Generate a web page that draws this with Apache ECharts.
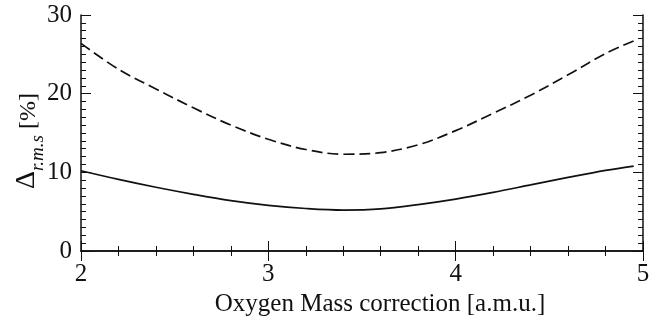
<!DOCTYPE html>
<html>
<head>
<meta charset="utf-8">
<script src="https://cdn.jsdelivr.net/npm/echarts@6/dist/echarts.min.js"></script>
<style>
html,body{margin:0;padding:0;background:#fff;}
#c{width:662px;height:316px;}
</style>
</head>
<body>
<div id="c"></div>
<script>
const massCorrection = [2.0, 2.2, 2.4, 2.6, 2.8, 3.0, 3.2, 3.4, 3.6, 3.8, 4.0, 4.2, 4.4, 4.6, 4.8, 4.95];
const dashedValues = [26.4, 23.1, 20.6, 18.2, 16.0, 14.2, 12.9, 12.3, 12.5, 13.5, 15.3, 17.5, 19.8, 22.4, 25.1, 26.7];
const solidValues = [10.2, 9.1, 8.1, 7.2, 6.4, 5.8, 5.4, 5.2, 5.35, 5.9, 6.6, 7.45, 8.4, 9.35, 10.25, 10.8];
const xTicks = [2, 3, 4, 5];
const yTicks = [0, 10, 20, 30];
const xTitle = 'Oxygen Mass correction [a.m.u.]';

const font = 'Liberation Serif';
const black = '#111';

function pairs(xs, ys) { return xs.map((x, i) => [x, ys[i]]); }

const baseAxis = {
  axisLine: { show: true, lineStyle: { color: black, width: 1.5 } },
  axisTick: { show: true, inside: true, length: 10, lineStyle: { color: black, width: 1 } },
  minorTick: { show: true, length: 5, lineStyle: { color: black, width: 1 } },
  splitLine: { show: false },
  minorSplitLine: { show: false }
};

const chart = echarts.init(document.getElementById('c'), null, { renderer: 'canvas' });
chart.setOption({
  backgroundColor: '#fff',
  animation: false,
  grid: { left: 81, top: 15, width: 562, height: 236, containLabel: false, outerBoundsMode: 'none' },
  xAxis: [
    Object.assign({}, baseAxis, {
      type: 'value', min: xTicks[0], max: xTicks[xTicks.length - 1], interval: 1, position: 'bottom',
      minorTick: Object.assign({}, baseAxis.minorTick, { splitNumber: 5 }),
      axisLabel: { color: black, fontFamily: font, fontSize: 25, margin: 11 },
      name: xTitle, nameLocation: 'middle', nameGap: 39,
      nameTextStyle: { color: black, fontFamily: font, fontSize: 25, padding: [0, 0, 0, 36] }
    }),
    Object.assign({}, baseAxis, {
      type: 'value', min: xTicks[0], max: xTicks[xTicks.length - 1], interval: 1, position: 'top',
      minorTick: Object.assign({}, baseAxis.minorTick, { splitNumber: 5 }),
      axisLabel: { show: false }
    })
  ],
  yAxis: [
    Object.assign({}, baseAxis, {
      type: 'value', min: yTicks[0], max: yTicks[yTicks.length - 1], interval: 10, position: 'left',
      minorTick: Object.assign({}, baseAxis.minorTick, { splitNumber: 10 }),
      axisLabel: { color: black, fontFamily: font, fontSize: 25, margin: 9 },
      name: '{d|Δ}{s|r.m.s}{n| [%]}', nameLocation: 'middle', nameGap: 40, nameMoveOverlap: false,
      nameTextStyle: {
        color: black, fontFamily: font, fontSize: 24,
        rich: {
          d: { fontFamily: font, fontSize: 28, color: black, verticalAlign: 'bottom', lineHeight: 30 },
          s: { fontFamily: font, fontSize: 19, fontStyle: 'italic', color: black, verticalAlign: 'bottom', lineHeight: 22, padding: [0, 0, -6, 0] },
          n: { fontFamily: font, fontSize: 24, color: black, verticalAlign: 'bottom', lineHeight: 30, padding: [0, 16, 0, 0] }
        }
      }
    }),
    Object.assign({}, baseAxis, {
      type: 'value', min: yTicks[0], max: yTicks[yTicks.length - 1], interval: 10, position: 'right',
      minorTick: Object.assign({}, baseAxis.minorTick, { splitNumber: 10 }),
      axisLabel: { show: false }
    })
  ],
  series: [
    {
      type: 'line', xAxisIndex: 0, yAxisIndex: 0, smooth: 0.35, symbol: 'none',
      data: pairs(massCorrection, dashedValues),
      lineStyle: { color: black, width: 1.7, type: [11, 5] }
    },
    {
      type: 'line', xAxisIndex: 0, yAxisIndex: 0, smooth: 0.35, symbol: 'none',
      data: pairs(massCorrection, solidValues),
      lineStyle: { color: black, width: 1.7, type: 'solid' }
    }
  ]
});
</script>
</body>
</html>
